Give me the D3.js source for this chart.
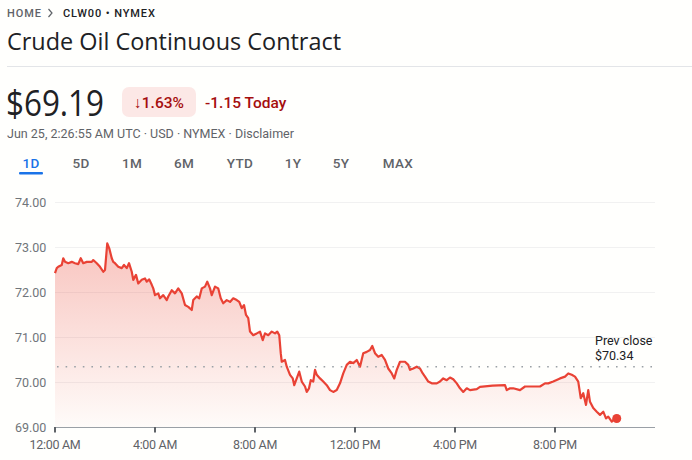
<!DOCTYPE html>
<html><head><meta charset="utf-8">
<script src="https://cdn.jsdelivr.net/npm/d3@7"></script>
<style>
html,body{margin:0;padding:0;background:#fffffd;}
svg{display:block;font-family:Roboto,"Noto Sans",sans-serif;}
</style></head><body>
<svg id="c" width="692" height="460"></svg>
<script>
// ---- data ----
const breadcrumb = ["HOME", "CLW00 • NYMEX"];
const title = "Crude Oil Continuous Contract";
const lastPrice = "$69.19";
const changePct = "↓1.63%";
const changeAbs = "-1.15 Today";
const subtitle = "Jun 25, 2:26:55 AM UTC · USD · NYMEX · Disclaimer";
const tabs = ["1D","5D","1M","6M","YTD","1Y","5Y","MAX"];
const yTicks = [69,70,71,72,73,74];
const xTickHours = [0,4,8,12,16,20];
const xTickLabels = ["12:00 AM","4:00 AM","8:00 AM","12:00 PM","4:00 PM","8:00 PM"];
const prevClose = 70.34;
// [hour of day, price]
const series = [
[0.00,72.42],[0.07,72.53],[0.13,72.56],[0.27,72.60],[0.33,72.75],[0.40,72.67],[0.53,72.64],[0.67,72.67],[0.80,72.64],[0.93,72.62],
[1.03,72.75],[1.13,72.64],[1.27,72.67],[1.47,72.67],[1.53,72.71],[1.67,72.64],[1.80,72.56],[1.93,72.45],[2.00,72.49],[2.09,73.08],
[2.17,72.97],[2.27,72.75],[2.33,72.67],[2.40,72.64],[2.53,72.56],[2.67,72.53],[2.76,72.60],[2.87,72.53],[2.96,72.64],[3.07,72.45],
[3.13,72.27],[3.24,72.38],[3.33,72.19],[3.47,72.27],[3.60,72.30],[3.67,72.23],[3.77,72.28],[3.87,72.16],[3.93,72.08],[4.00,71.93],
[4.13,71.97],[4.20,71.86],[4.33,71.93],[4.47,71.82],[4.53,71.90],[4.67,72.04],[4.80,71.97],[4.93,72.08],[5.07,71.97],[5.20,71.71],
[5.33,71.67],[5.47,71.60],[5.53,71.82],[5.67,71.90],[5.77,71.86],[5.87,72.08],[6.00,72.12],[6.09,72.23],[6.20,72.08],[6.27,71.93],
[6.40,72.12],[6.53,72.08],[6.63,71.86],[6.73,71.75],[6.87,71.82],[7.00,71.78],[7.13,71.86],[7.27,71.82],[7.37,71.78],[7.47,71.64],
[7.56,71.71],[7.64,71.49],[7.73,71.42],[7.80,71.12],[7.93,71.04],[8.07,71.08],[8.20,71.12],[8.31,70.93],[8.40,71.08],[8.53,71.04],
[8.67,71.12],[8.80,71.08],[8.89,71.12],[8.97,71.04],[9.03,70.64],[9.07,70.45],[9.20,70.49],[9.27,70.34],[9.40,70.16],[9.51,70.08],
[9.57,69.93],[9.67,70.08],[9.77,70.23],[9.87,70.01],[10.00,69.90],[10.07,69.78],[10.16,69.86],[10.23,70.04],[10.33,70.01],[10.40,70.27],
[10.47,70.16],[10.60,70.08],[10.73,70.01],[10.87,69.93],[11.00,69.82],[11.13,69.78],[11.27,69.82],[11.40,69.97],[11.53,70.19],[11.67,70.38],
[11.80,70.45],[11.93,70.42],[12.07,70.49],[12.20,70.34],[12.33,70.64],[12.47,70.67],[12.60,70.71],[12.69,70.80],[12.80,70.64],[12.93,70.56],
[13.07,70.60],[13.20,70.49],[13.33,70.30],[13.47,70.19],[13.57,70.08],[13.67,70.27],[13.80,70.45],[14.00,70.45],[14.13,70.38],[14.20,70.27],
[14.33,70.30],[14.47,70.34],[14.60,70.30],[14.71,70.19],[14.80,70.12],[14.93,70.01],[15.07,69.97],[15.27,69.97],[15.40,70.01],[15.53,70.08],
[15.67,70.04],[15.80,70.10],[15.93,70.06],[16.07,69.97],[16.20,69.86],[16.33,69.78],[16.47,69.86],[16.60,69.82],[16.87,69.84],[17.00,69.89],
[17.50,69.92],[18.00,69.93],[18.07,69.82],[18.20,69.86],[18.33,69.86],[18.60,69.82],[18.80,69.90],[19.13,69.90],[19.40,69.90],[19.60,69.97],
[19.73,69.97],[19.93,70.01],[20.20,70.08],[20.40,70.12],[20.53,70.19],[20.67,70.16],[20.80,70.12],[20.93,70.01],[21.03,69.64],[21.13,69.75],
[21.24,69.49],[21.33,69.82],[21.40,69.56],[21.53,69.42],[21.67,69.34],[21.80,69.27],[21.93,69.34],[22.04,69.19],[22.13,69.23],[22.27,69.12],
[22.40,69.19],[22.47,69.19]
];

// ---- layout ----
const svg = d3.select("#c");
const RED = "#e94235", DARK = "#202124", GRAY = "#5f6368", DKRED = "#a50e0e";
const x = d3.scaleLinear().domain([0,24]).range([55,655]);
const y = d3.scaleLinear().domain([69,74]).range([427,202]);

// breadcrumb
svg.append("text").attr("x",7).attr("y",17).attr("font-size",11).attr("font-weight",500).attr("letter-spacing",0.9).attr("fill",GRAY).text(breadcrumb[0]);
svg.append("path").attr("d","M48.5,9 L52,13 L48.5,17").attr("fill","none").attr("stroke",GRAY).attr("stroke-width",1.2);
svg.append("text").attr("x",63).attr("y",17).attr("font-size",11).attr("font-weight",500).attr("letter-spacing",0.9).attr("fill",DARK).text(breadcrumb[1]);

// title
svg.append("text").attr("x",7).attr("y",50).attr("font-size",24).attr("fill",DARK).attr("font-family","'Open Sans',Roboto,sans-serif").attr("textLength",334).attr("lengthAdjust","spacingAndGlyphs").text(title);
svg.append("line").attr("x1",7).attr("x2",692).attr("y1",66.5).attr("y2",66.5).attr("stroke","#e3e5e8");

// price row
svg.append("text").attr("x",6).attr("y",116).attr("font-size",36).attr("fill",DARK).attr("font-family","'Open Sans',Roboto,sans-serif").attr("textLength",98).attr("lengthAdjust","spacingAndGlyphs").text(lastPrice);
svg.append("rect").attr("x",122).attr("y",87).attr("width",74).attr("height",30).attr("rx",7).attr("fill","#fce8e6");
svg.append("text").attr("x",159).attr("y",108).attr("text-anchor","middle").attr("font-size",15.5).attr("font-weight",500).attr("fill",DKRED).text(changePct);
svg.append("text").attr("x",205).attr("y",108).attr("font-size",15.5).attr("font-weight",500).attr("fill",DKRED).text(changeAbs);
svg.append("text").attr("x",7).attr("y",138).attr("font-size",12.5).attr("fill",GRAY).attr("textLength",287).attr("lengthAdjust","spacing").text(subtitle);

// tabs
const tabCenters = [31,81,132,184,240,293,341,398];
svg.selectAll("text.tab").data(tabs).join("text").attr("class","tab")
  .attr("x",(d,i)=>tabCenters[i]).attr("y",168).attr("text-anchor","middle")
  .attr("font-size",13.5).attr("font-weight",500).attr("letter-spacing",0.3)
  .attr("fill",(d,i)=>i===0?"#1a73e8":GRAY).text(d=>d);
svg.append("rect").attr("x",19).attr("y",172).attr("width",24).attr("height",2.5).attr("rx",1).attr("fill","#1a73e8");

// gradient
const defs = svg.append("defs");
const g = defs.append("linearGradient").attr("id","ag").attr("gradientUnits","userSpaceOnUse")
  .attr("x1",0).attr("x2",0).attr("y1",y(73.2)).attr("y2",y(69));
g.append("stop").attr("offset",0).attr("stop-color",RED).attr("stop-opacity",0.32);
g.append("stop").attr("offset",1).attr("stop-color",RED).attr("stop-opacity",0.02);

// grid
svg.append("g").selectAll("line").data(yTicks.filter(t=>t>69)).join("line")
  .attr("x1",55).attr("x2",655).attr("y1",d=>y(d)+0.5).attr("y2",d=>y(d)+0.5)
  .attr("stroke","#f1f1f1");
// y labels
svg.append("g").selectAll("text").data(yTicks).join("text")
  .attr("x",15).attr("y",d=>y(d)+4.5).attr("font-size",12.5).attr("fill","#70757a")
  .text(d=>d3.format(".2f")(d));

// area & line
const area = d3.area().x(d=>x(d[0])).y0(y(69)).y1(d=>y(d[1]));
svg.append("path").datum(series).attr("d",area).attr("fill","url(#ag)");
const line = d3.line().x(d=>x(d[0])).y(d=>y(d[1]));
svg.append("path").datum(series).attr("d",line).attr("fill","none").attr("stroke",RED).attr("stroke-width",2.2).attr("stroke-linejoin","round");

// prev close
svg.append("line").attr("x1",57).attr("x2",652).attr("y1",y(prevClose)).attr("y2",y(prevClose))
  .attr("stroke","#9aa0a6").attr("stroke-width",1.6).attr("stroke-dasharray","1.6,7").attr("stroke-linecap","butt");
svg.append("text").attr("x",595).attr("y",345).attr("font-size",12.5).attr("fill",DARK).text("Prev close");
svg.append("text").attr("x",595).attr("y",360).attr("font-size",12.5).attr("fill",DARK).text("$"+d3.format(".2f")(prevClose));

// x axis
svg.append("line").attr("x1",55).attr("x2",655).attr("y1",427.5).attr("y2",427.5).attr("stroke","#9aa0a6").attr("stroke-width",1.2);
svg.append("g").selectAll("line").data(xTickHours).join("line")
  .attr("x1",d=>x(d)).attr("x2",d=>x(d)).attr("y1",427).attr("y2",432.5).attr("stroke","#5f6368").attr("stroke-width",2);
svg.append("g").selectAll("text").data(xTickHours).join("text")
  .attr("x",d=>x(d)).attr("y",449).attr("text-anchor","middle").attr("font-size",12.5).attr("fill",GRAY).attr("letter-spacing",-0.3)
  .text((d,i)=>xTickLabels[i]);

// end dot
const last = series[series.length-1];
svg.append("circle").attr("cx",x(last[0])).attr("cy",y(last[1])).attr("r",4.5).attr("fill",RED);
</script>
</body></html>
